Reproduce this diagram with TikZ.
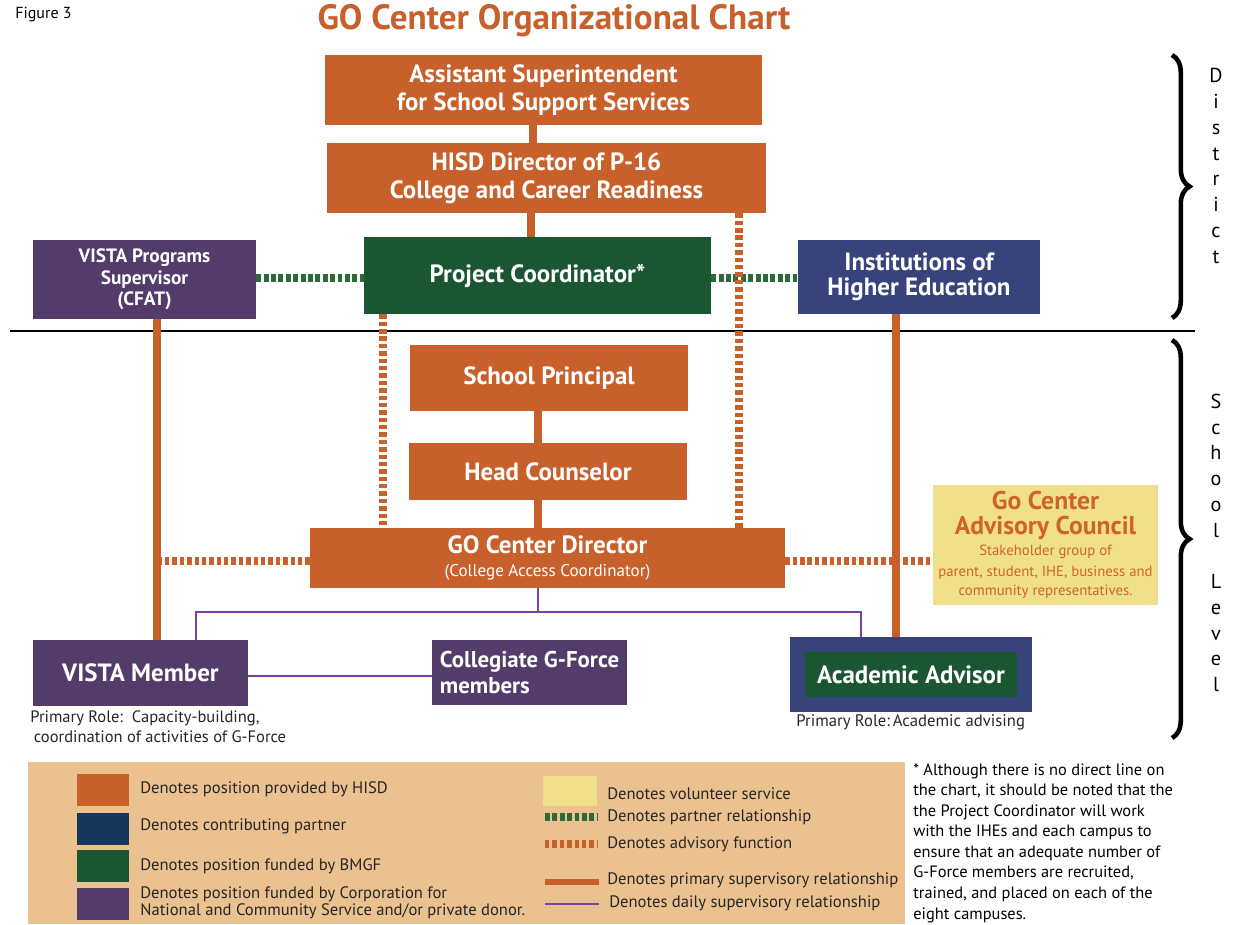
\documentclass[tikz,border=0pt]{standalone}
\usepackage{fontspec}
\setmainfont{PT Sans}
\usetikzlibrary{decorations.pathreplacing,calc}
\definecolor{ora}{HTML}{C8602B}
\definecolor{grn}{HTML}{1A5632}
\definecolor{pur}{HTML}{533B6A}
\definecolor{blu}{HTML}{37437A}
\definecolor{dblu}{HTML}{15385A}
\definecolor{yel}{HTML}{F0E08C}
\definecolor{tanbg}{HTML}{EBC18F}
\definecolor{lpur}{HTML}{7D3FA5}
\definecolor{lgrn}{HTML}{2C6A3C}
\definecolor{advtxt}{HTML}{D0632A}
\newcommand{\pu}{*0.02cm}
\newcommand{\fs}[2]{\fontsize{#1}{#2}\selectfont}
\newcommand{\smadv}{\mdseries\fs{8.4}{11.3}}
\tikzset{
  box/.style={rectangle, inner sep=0pt, align=center, text=white, font=\bfseries\fs{14.2}{16}},
  obox/.style={box, fill=ora},
  gbox/.style={box, fill=grn},
  pbox/.style={box, fill=pur},
  bbox/.style={box, fill=blu},
  prim/.style={ora, line width=4.5pt},
  daily/.style={lpur, line width=0.6pt},
  partner/.style={lgrn, line width=4.4pt, dash pattern=on 2.8pt off 1.4pt},
  advis/.style={ora, line width=4pt, dash pattern=on 2.5pt off 1.7pt},
  legtxt/.style={anchor=west, inner sep=0pt, align=left, text=black!85, font=\fs{9.45}{9.6}},
  swatch/.style={rectangle, inner sep=0pt, minimum width=52\pu, minimum height=32\pu},
  vtxt/.style={align=center, inner sep=0pt, font=\fs{11.5}{14.65}},
  bracestyle/.style={decorate, decoration={brace, amplitude=10pt}, line width=2.6pt, black}
}
\begin{document}
\begin{tikzpicture}[x=0.02cm, y=-0.02cm]
\useasboundingbox (0,0) rectangle (1238,924);
% title
\node[anchor=west, inner sep=0pt, font=\fs{9.1}{10}] (fig) at (15,15) {Figure 3};
\node[inner sep=0pt, text=ora, font=\bfseries\fs{20}{22}] (title) at (554,21) {GO Center Organizational Chart};
% boxes
\node[obox, minimum width=437\pu, minimum height=70\pu] (A) at (543.5,90) {Assistant Superintendent\\for School Support Services};
\node[obox, minimum width=439\pu, minimum height=70\pu] (B) at (546.5,178) {HISD Director of P-16\\College and Career Readiness};
\node[gbox, minimum width=347\pu, minimum height=77\pu] (PC) at (537.5,275.5) {Project Coordinator*};
\node[pbox, minimum width=223\pu, minimum height=79\pu, font=\bfseries\fs{11}{12.3}] (VS) at (144.5,279.5) {\raisebox{-1.5pt}{VISTA Programs}\\\raisebox{-1.5pt}{Supervisor}\\\raisebox{-1.5pt}{(CFAT)}};
\node[bbox, minimum width=242\pu, minimum height=74\pu, font=\bfseries\fs{14.2}{14.3}] (IHE) at (919,277) {Institutions of\\Higher Education};
\node[obox, minimum width=278\pu, minimum height=66\pu] (SP) at (549,378) {School Principal};
\node[obox, minimum width=278\pu, minimum height=57\pu] (HC) at (548,471.5) {Head Counselor};
\node[obox, minimum width=475\pu, minimum height=60\pu] (GD) at (547.5,558) {GO Center Director\\[-3pt]\mdseries\fs{9.7}{10}(College Access Coordinator)};
\node[rectangle, fill=yel, inner sep=0pt, minimum width=225\pu, minimum height=120\pu, align=center, text=advtxt, font=\bfseries\fs{14.6}{13.9}] (AC) at (1045.5,545)
  {Go Center\\Advisory Council\\[-1.6pt]\smadv Stakeholder group of\\[-2.2pt]\smadv parent, student, IHE, business and\\[-2.9pt]\smadv community representatives.};
\node[pbox, minimum width=215\pu, minimum height=66\pu] (VM) at (140.5,673) {VISTA Member};
\node[pbox, minimum width=195\pu, minimum height=65\pu, align=left, font=\bfseries\fs{13}{14.5}] (CG) at (529.5,672.5) {Collegiate G-Force\\members};
\node[bbox, minimum width=242\pu, minimum height=75\pu] (AA) at (911,674.5) {};
\node[gbox, minimum width=212\pu, minimum height=45\pu] (AAi) at (911,674.5) {Academic Advisor};
% role texts
\node[anchor=north west, inner sep=0pt, align=left, font=\fs{9.4}{11.4}, text=black!85] (r1) at (30,710) {Primary Role:\ \ Capacity-building,\\\hspace{2pt}coordination of activities of G-Force};
\node[anchor=west, inner sep=0pt, font=\fs{9.5}{10}, text=black!85] (r2) at (796,722) {Primary Role:\,Academic advising};
% separator
\draw[black, line width=0.6pt] (10,331) -- (1195,331);
% helper coordinates
\coordinate (xa) at (533,0);
\coordinate (xb) at (531,0);
\coordinate (xs) at (538,0);
\coordinate (xr) at (739,0);
\coordinate (xl) at (383,0);
\coordinate (xv) at (157,0);
\coordinate (xi) at (896,0);
\coordinate (bus) at (538,612);
\coordinate (pv) at (196,0);
\coordinate (pa) at (861,0);
\coordinate (ladv) at (160,561);
% primary connectors
\draw[prim] (A.south -| xa) -- (B.north -| xa);
\draw[prim] (B.south -| xb) -- (PC.north -| xb);
\draw[prim] (SP.south -| xs) -- (HC.north -| xs);
\draw[prim] (HC.south -| xs) -- (GD.north -| xs);
\draw[prim] (VS.south -| xv) -- (VM.north -| xv);
\draw[prim] (IHE.south -| xi) -- (AA.north -| xi);
% partner
\draw[partner] ([yshift=1.5\pu]VS.east) -- ([yshift=1.5\pu]VS.east -| PC.west);
\draw[partner] ([yshift=-2.5\pu]PC.east) -- ([yshift=-2.5\pu]PC.east -| IHE.west);
% advisory
\draw[advis] (B.south -| xr) -- (GD.north -| xr);
\draw[advis] (PC.south -| xl) -- (GD.north -| xl);
\draw[advis] (GD.west |- ladv) -- (ladv);
\draw[advis] ([yshift=-3\pu]GD.east) -- ([yshift=-3\pu]GD.east -| AC.west);
% daily
\draw[daily] (GD.south -| bus) -- (bus);
\draw[daily] (VM.north -| pv) |- (bus) -| (AA.north -| pa);
\draw[daily] ([yshift=-3\pu]VM.east) -- ([yshift=-3\pu]VM.east -| CG.west);
% braces
\coordinate (d1) at (1172,55);
\coordinate (d2) at (1172,318);
\coordinate (s1) at (1172,340);
\coordinate (s2) at (1172,738);
\draw[bracestyle] (d1) -- (d2);
\draw[bracestyle] (s1) -- (s2);
\node[vtxt] (dist) at (1216,166) {D\\i\\s\\t\\r\\i\\c\\t};
\node[vtxt] (sch) at (1216,543) {S\\c\\h\\o\\o\\l\\ \\L\\e\\v\\e\\l};
% legend
\fill[tanbg] (28,762) rectangle (905,924);
\node[swatch, fill=ora] (k1) at (103,789.5) {};
\node[swatch, fill=dblu] (k2) at (103,829) {};
\node[swatch, fill=grn] (k3) at (103,866) {};
\node[swatch, fill=pur] (k4) at (103,903.5) {};
\node[legtxt] (t1) at (140,789) {Denotes position provided by HISD};
\node[legtxt] (t2) at (140,826) {Denotes contributing partner};
\node[legtxt] (t3) at (140,866) {Denotes position funded by BMGF};
\node[legtxt] (t4) at (140,903) {Denotes position funded by Corporation for\\National and Community Service and/or private donor.};
\node[swatch, fill=yel, minimum width=54\pu, minimum height=30\pu] (k5) at (570,791) {};
\node[legtxt] (t5) at (607,794) {Denotes volunteer service};
\coordinate (p1) at (545,817); \coordinate (p2) at (597,817);
\draw[partner] (p1) -- (p2);
\node[legtxt] (t6) at (607,817) {Denotes partner relationship};
\coordinate (a1) at (545,844); \coordinate (a2) at (597,844);
\draw[advis] (a1) -- (a2);
\node[legtxt] (t7) at (607,844) {Denotes advisory function};
\coordinate (m1) at (545,882); \coordinate (m2) at (599,882);
\draw[ora, line width=3pt] (m1) -- (m2);
\node[legtxt] (t8) at (607,880) {Denotes primary supervisory relationship};
\coordinate (n1) at (545,904); \coordinate (n2) at (599,904);
\draw[daily] (n1) -- (n2);
\node[legtxt] (t9) at (609,903) {Denotes daily supervisory relationship};
% footnote
\node[anchor=north west, inner sep=0pt, align=left, font=\fs{9.35}{11.7}, text=black] (foot) at (913,763)
 {* Although there is no direct line on\\the chart, it should be noted that the\\the Project Coordinator will work\\with the IHEs and each campus to\\ensure that an adequate number of\\G-Force members are recruited,\\trained, and placed on each of the\\eight campuses.};
\end{tikzpicture}
\end{document}
